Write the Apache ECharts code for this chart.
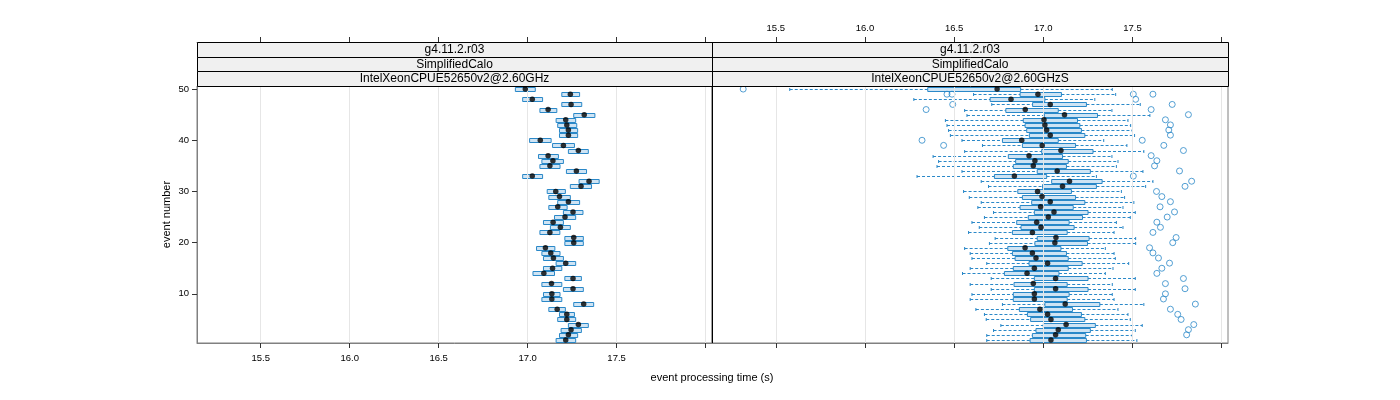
<!DOCTYPE html>
<html><head><meta charset="utf-8">
<script src="https://cdn.jsdelivr.net/npm/echarts@6/dist/echarts.min.js"></script>
<style>html,body{margin:0;padding:0;background:#fff}#c{width:1400px;height:400px}</style>
</head><body><div id="c"></div>
<script>
// event numbers, listed top (50) to bottom (1)
const events = [50,49,48,47,46,45,44,43,42,41,40,39,38,37,36,35,34,33,32,31,30,29,28,27,26,25,24,23,22,21,20,19,18,17,16,15,14,13,12,11,10,9,8,7,6,5,4,3,2,1];

// Left panel: IntelXeonCPUE52650v2@2.60GHz
const leftMed = [16.987,17.240,17.026,17.244,17.115,17.318,17.214,17.220,17.229,17.229,17.071,17.201,17.285,17.115,17.142,17.125,17.274,17.026,17.345,17.300,17.158,17.179,17.229,17.169,17.255,17.210,17.143,17.184,17.125,17.259,17.259,17.100,17.130,17.145,17.214,17.140,17.091,17.255,17.134,17.255,17.136,17.136,17.315,17.166,17.220,17.220,17.285,17.244,17.229,17.214];
const leftQ1 = [16.931,17.192,16.972,17.192,17.069,17.259,17.160,17.169,17.179,17.179,17.011,17.140,17.229,17.061,17.080,17.069,17.218,16.972,17.289,17.240,17.110,17.119,17.169,17.119,17.201,17.151,17.089,17.128,17.069,17.209,17.209,17.050,17.080,17.089,17.160,17.089,17.030,17.209,17.080,17.201,17.089,17.080,17.259,17.119,17.179,17.169,17.229,17.188,17.179,17.160];
const leftQ3 = [17.043,17.292,17.084,17.304,17.164,17.378,17.270,17.276,17.281,17.281,17.132,17.263,17.341,17.173,17.201,17.182,17.331,17.084,17.402,17.359,17.212,17.240,17.292,17.222,17.311,17.270,17.201,17.240,17.181,17.313,17.313,17.153,17.182,17.201,17.270,17.192,17.151,17.302,17.192,17.313,17.182,17.192,17.371,17.212,17.263,17.270,17.341,17.302,17.281,17.270];

// Right panel: IntelXeonCPUE52650v2@2.60GHzS
const rightLo  = [15.578,16.609,16.274,16.711,16.559,16.572,16.451,16.460,16.469,16.479,16.544,16.659,16.559,16.382,16.413,16.404,16.544,16.292,16.652,16.693,16.553,16.585,16.652,16.633,16.721,16.670,16.600,16.641,16.581,16.730,16.698,16.559,16.590,16.600,16.683,16.590,16.547,16.708,16.590,16.708,16.600,16.590,16.771,16.622,16.670,16.680,16.762,16.721,16.683,16.683];
const rightQ1  = [16.352,16.870,16.702,16.940,16.790,17.006,16.888,16.898,16.907,16.922,16.771,16.883,16.991,16.804,16.845,16.832,16.966,16.726,17.047,16.996,16.857,16.883,16.935,16.870,16.950,16.916,16.851,16.875,16.827,16.966,16.953,16.801,16.827,16.842,16.920,16.832,16.782,16.950,16.836,16.950,16.832,16.832,17.009,16.866,16.911,16.929,17.000,16.959,16.939,16.926];
const rightMed = [16.741,16.970,16.819,17.039,16.899,17.119,17.004,17.009,17.019,17.039,16.879,16.994,17.099,16.920,16.953,16.944,17.078,16.838,17.147,17.108,16.968,16.993,17.039,16.985,17.060,17.028,16.963,16.987,16.939,17.071,17.065,16.898,16.939,16.959,17.024,16.950,16.909,17.069,16.944,17.069,16.950,16.950,17.123,16.981,17.024,17.043,17.128,17.084,17.069,17.043];
const rightQ3  = [16.873,17.102,17.009,17.242,17.084,17.304,17.192,17.205,17.214,17.233,17.084,17.181,17.279,17.108,17.140,17.130,17.264,17.019,17.330,17.298,17.158,17.181,17.233,17.168,17.251,17.220,17.145,17.173,17.134,17.257,17.248,17.099,17.130,17.140,17.218,17.140,17.088,17.251,17.134,17.251,17.145,17.134,17.317,17.164,17.214,17.233,17.292,17.264,17.238,17.242];
const rightHi  = [17.387,17.406,17.289,17.544,17.385,17.598,17.475,17.490,17.499,17.512,17.339,17.469,17.564,17.385,17.419,17.410,17.559,17.298,17.615,17.574,17.438,17.456,17.508,17.447,17.516,17.488,17.410,17.447,17.397,17.518,17.518,17.348,17.397,17.404,17.479,17.391,17.348,17.516,17.387,17.516,17.387,17.397,17.564,17.419,17.475,17.488,17.555,17.516,17.499,17.525];

// Right panel outliers
const outlierEvent = [50,49,49,49,49,48,47,47,46,46,45,44,43,42,41,40,40,39,39,38,37,36,35,34,33,32,31,30,29,28,27,26,25,24,23,22,21,20,19,18,17,16,15,14,13,12,11,10,9,8,7,6,5,4,3,2];
const outlierValue = [15.317,16.460,16.488,17.505,17.615,17.518,16.492,17.723,16.343,17.605,17.814,17.685,17.713,17.704,17.713,16.320,17.555,16.441,17.676,17.786,17.605,17.637,17.624,17.764,17.505,17.832,17.795,17.635,17.665,17.713,17.655,17.736,17.695,17.637,17.657,17.615,17.745,17.726,17.596,17.615,17.646,17.708,17.665,17.637,17.786,17.685,17.795,17.685,17.674,17.853,17.713,17.754,17.773,17.844,17.814,17.804];

const xTicks = [15.5,16.0,16.5,17.0,17.5,18.0];
const xLabels = [15.5,16.0,16.5,17.0,17.5];
const yTicks = [10,20,30,40,50];
const stripLabels = ['g4.11.2.r03','SimplifiedCalo'];
const panelLabels = ['IntelXeonCPUE52650v2@2.60GHz','IntelXeonCPUE52650v2@2.60GHzS'];
const xTitle = 'event processing time (s)';
const yTitle = 'event number';

const BLUE = '#2a88c8';
const FONT = 'Liberation Sans';
const XMIN = 15.142, XMAX = 18.036;
const panels = [{x0:197, x1:712}, {x0:712, x1:1228}];
const TOP = 86, BOTTOM = 343;

function makeX(gridIndex, pos, showLabel) {
  return {
    type:'value', gridIndex, position: pos, min: XMIN, max: XMAX,
    offset: pos === 'top' ? 44 : 0,
    splitLine:{show:false},
    axisLine:{show:true, lineStyle:{color:'#808080', width:1}},
    axisTick:{show:true, length:5, customValues: xTicks, lineStyle:{color:'#333'}},
    axisLabel:{show: showLabel, customValues: xLabels, formatter: v => Number(v).toFixed(1),
               fontSize: 9.5, color:'#000', fontFamily: FONT, margin: pos === 'top' ? 9 : 10}
  };
}

function boxRender(withWhiskers) {
  return function(params, api) {
    const ev = api.value(0);
    const q1 = api.value(1), q3 = api.value(2);
    const p1 = api.coord([q1, ev]), p3 = api.coord([q3, ev]);
    const cy = Math.round(p1[1]) + 0.5;
    const children = [];
    if (withWhiskers) {
      const lo = api.value(3), hi = api.value(4);
      const pl = api.coord([lo, ev]), ph = api.coord([hi, ev]);
      const ls = {stroke: BLUE, lineWidth: 1, lineDash: [3, 2]};
      children.push({type:'line', shape:{x1: pl[0], y1: cy, x2: p1[0], y2: cy}, style: ls});
      children.push({type:'line', shape:{x1: p3[0], y1: cy, x2: ph[0], y2: cy}, style: ls});
      children.push({type:'line', shape:{x1: pl[0], y1: cy-1.5, x2: pl[0], y2: cy+1.5}, style:{stroke: BLUE, lineWidth:1}});
      children.push({type:'line', shape:{x1: ph[0], y1: cy-1.5, x2: ph[0], y2: cy+1.5}, style:{stroke: BLUE, lineWidth:1}});
    }
    children.push({type:'rect', shape:{x: p1[0], y: cy-2, width: p3[0]-p1[0], height: 4},
                   style:{fill:'#cfe4f4', stroke: BLUE, lineWidth: 1}});
    return {type:'group', children};
  };
}

const leftBoxData = events.map((e,i) => [e, leftQ1[i], leftQ3[i]]);
const rightBoxData = events.map((e,i) => [e, rightQ1[i], rightQ3[i], rightLo[i], rightHi[i]]);
const leftMedData = events.map((e,i) => [leftMed[i], e]);
const rightMedData = events.map((e,i) => [rightMed[i], e]);
const outData = outlierEvent.map((e,i) => [outlierValue[i], e]);

function gridLines(idx) {
  return {
    type:'scatter', xAxisIndex: idx, yAxisIndex: idx, data: [], z: 1, silent: true,
    markLine: {silent: true, symbol:['none','none'], label:{show:false},
      lineStyle:{color:'#e6e6e6', type:'solid', width:1},
      emphasis:{disabled:true}, animation:false,
      data: xTicks.map(v => ({xAxis: v}))}
  };
}

const graphics = [];
const stripRows = [[42,57],[57,71],[71,86]];
panels.forEach((p, pi) => {
  const labels = [stripLabels[0], stripLabels[1], panelLabels[pi]];
  stripRows.forEach((r, ri) => {
    graphics.push({type:'rect', shape:{x: p.x0 + 0.5, y: r[0] + 0.5, width: p.x1 - p.x0, height: r[1]-r[0]},
      style:{fill:'#f0f0f0', stroke:'#000', lineWidth:1}, z: 10});
    graphics.push({type:'text', x: (p.x0 + p.x1)/2, y: (r[0]+r[1])/2 + 0.5,
      style:{text: labels[ri], textAlign:'center', textVerticalAlign:'middle',
             font: '12px "' + FONT + '"', fill:'#000'}, z: 11});
  });
});
graphics.push({type:'line', shape:{x1: 712.5, y1: 42, x2: 712.5, y2: BOTTOM}, style:{stroke:'#000', lineWidth:1}, z: 12});
graphics.push({type:'text', x: 712, y: 378, style:{text: xTitle, textAlign:'center', textVerticalAlign:'middle',
  font: '11px "' + FONT + '"', fill:'#000'}, z: 11});

const option = {
  animation: false,
  textStyle: {fontFamily: FONT},
  grid: panels.map(p => ({left: p.x0, top: TOP, width: p.x1 - p.x0, height: BOTTOM - TOP,
                          show: true, borderColor:'#808080', borderWidth:1, backgroundColor:'transparent'})),
  xAxis: [makeX(0,'bottom',true), makeX(1,'bottom',false), makeX(0,'top',false), makeX(1,'top',true)],
  yAxis: [
    {type:'value', gridIndex:0, min:0.4, max:50.6, splitLine:{show:false},
     axisLine:{show:true, lineStyle:{color:'#808080'}},
     axisTick:{show:true, length:5, customValues: yTicks, lineStyle:{color:'#333'}},
     axisLabel:{show:true, customValues: yTicks, fontSize:9.5, color:'#000', margin:8, fontFamily: FONT},
     name: yTitle, nameLocation:'middle', nameGap: 25, nameRotate: 90,
     nameTextStyle:{fontSize:11, color:'#000', fontFamily: FONT}},
    {type:'value', gridIndex:1, min:0.4, max:50.6, splitLine:{show:false},
     axisLine:{show:false}, axisTick:{show:false}, axisLabel:{show:false}}
  ],
  graphic: graphics,
  series: [
    gridLines(0), gridLines(1),
    {type:'custom', xAxisIndex:0, yAxisIndex:0, z:3, silent:true, data: leftBoxData,
     encode:{x:[1,2], y:0}, renderItem: boxRender(false)},
    {type:'custom', xAxisIndex:1, yAxisIndex:1, z:3, silent:true, data: rightBoxData,
     encode:{x:[1,2,3,4], y:0}, renderItem: boxRender(true)},
    {type:'scatter', xAxisIndex:1, yAxisIndex:1, z:4, silent:true, data: outData,
     symbol:'circle', symbolSize:6, itemStyle:{color:'rgba(255,255,255,0)', borderColor: BLUE, borderWidth:1}},
    {type:'scatter', xAxisIndex:0, yAxisIndex:0, z:5, silent:true, data: leftMedData,
     symbol:'circle', symbolSize:5.5, itemStyle:{color:'#000'}},
    {type:'scatter', xAxisIndex:1, yAxisIndex:1, z:5, silent:true, data: rightMedData,
     symbol:'circle', symbolSize:5.5, itemStyle:{color:'#000'}}
  ]
};
echarts.init(document.getElementById('c'), null, {renderer:'canvas'}).setOption(option);
</script>
</body></html>
